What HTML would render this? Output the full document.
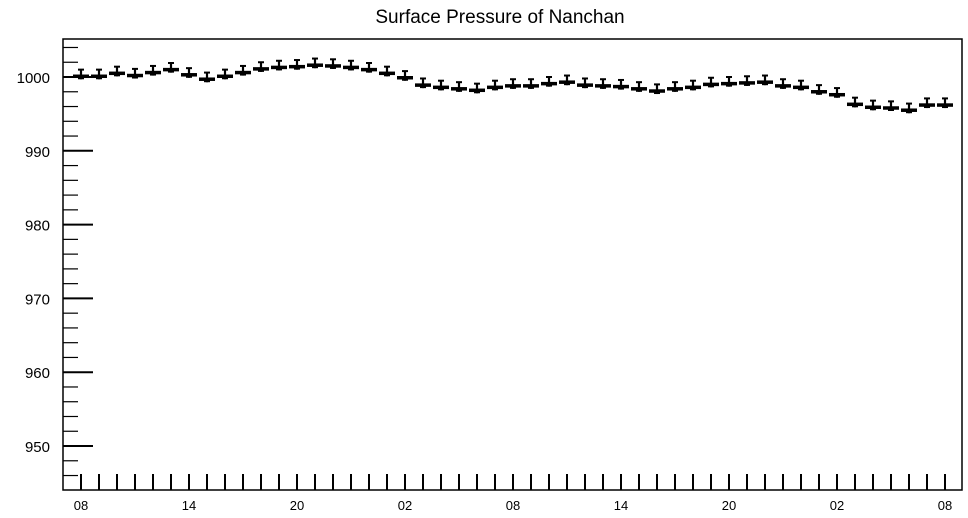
<!DOCTYPE html>
<html><head><meta charset="utf-8"><style>
body{margin:0;background:#fff;}
svg{display:block;font-family:"Liberation Sans",Arial,sans-serif;}
</style></head><body>
<svg id="chart" width="968" height="518" viewBox="0 0 968 518">
<text x="500" y="23" text-anchor="middle" font-size="19">Surface Pressure of Nanchan</text>
<rect x="63" y="39" width="899" height="451" fill="none" stroke="#000" stroke-width="1.5"/>
<g id="axes"></g>
<g id="marks"></g>
</svg>
<script>
const hourLabels = ["08","14","20","02","08","14","20","02","08"];
const yTicks = [950,960,970,980,990,1000];
const pressure = [1000.1,1000.1,1000.5,1000.2,1000.6,1001.0,1000.3,999.7,1000.1,1000.6,1001.1,1001.3,1001.4,1001.6,1001.5,1001.3,1001.0,1000.5,999.9,998.9,998.6,998.4,998.2,998.6,998.8,998.8,999.1,999.3,998.9,998.8,998.7,998.4,998.1,998.4,998.6,999.0,999.1,999.2,999.3,998.8,998.6,998.0,997.6,996.3,995.9,995.8,995.5,996.2,996.2];
const errUp = 0.9;

const NS="http://www.w3.org/2000/svg";
const yMin=944.04, yMax=1005.15, plotTop=39, plotBottom=490;
function y(v){return plotBottom-(v-yMin)/(yMax-yMin)*(plotBottom-plotTop);}
function x(i){return 81+i*18;}
const axesG=document.getElementById('axes'), marksG=document.getElementById('marks');
function mk(tag,attrs,parent){const e=document.createElementNS(NS,tag);for(const k in attrs)e.setAttribute(k,attrs[k]);parent.appendChild(e);return e;}

for(let v=946; v<=1004; v+=2){
  const major = v%10===0;
  const t=mk('line',{x1:63,x2:major?93:78,y1:y(v),y2:y(v),stroke:'#000','stroke-width':major?2:1.2},axesG);
  
  
}
yTicks.forEach(v=>{
  const t=mk('text',{x:50,y:y(v)+6,'text-anchor':'end','font-size':'15'},axesG);
  t.textContent=v;
  
  
});
for(let i=0;i<pressure.length;i++){
  const t=mk('line',{x1:x(i),x2:x(i),y1:490,y2:474,stroke:'#000','stroke-width':2},axesG);
  
  
}
hourLabels.forEach((l,k)=>{
  const t=mk('text',{x:x(k*6),y:510,'text-anchor':'middle','font-size':'13'},axesG);
  t.textContent=l;
  
  
});
pressure.forEach((v,i)=>{
  const g=mk('g',{},marksG);
  
  
  const cx=x(i), cy=y(v), yt=y(v+errUp);
  mk('line',{x1:cx,x2:cx,y1:cy+3,y2:yt,stroke:'#000','stroke-width':2.2},g);
  mk('line',{x1:cx-3,x2:cx+3,y1:yt,y2:yt,stroke:'#000','stroke-width':2},g);
  mk('line',{x1:cx-8,x2:cx+8,y1:cy,y2:cy,stroke:'#000','stroke-width':3.5},g);
  mk('rect',{x:cx-3,y:cy,width:6,height:3,fill:'#000'},g);
});
</script>
</body></html>
